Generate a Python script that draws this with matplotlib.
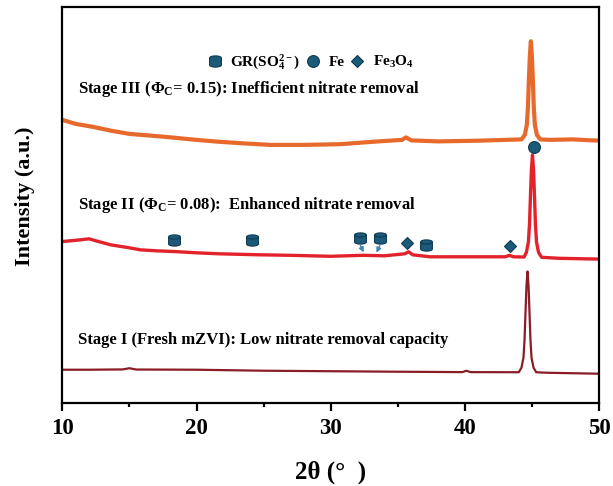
import numpy as np
import matplotlib
matplotlib.use("Agg")
import matplotlib.pyplot as plt
from matplotlib.path import Path
from matplotlib.lines import Line2D

plt.rcParams['font.family'] = ['Liberation Serif', 'DejaVu Serif']
plt.rcParams['font.weight'] = 'bold'
plt.rcParams['mathtext.fontset'] = 'custom'
plt.rcParams['mathtext.rm'] = 'Liberation Serif:bold'
plt.rcParams['mathtext.bf'] = 'Liberation Serif:bold'
plt.rcParams['mathtext.it'] = 'Liberation Serif:bold:italic'

# --- XRD traces (2theta in deg, intensity in a.u., offset stacked) ---
# Stage III (orange)
s3_2theta = [10, 11, 12.3, 13.7, 15, 17.7, 20, 21.6, 23.5, 25.5, 28, 30.7, 33, 35.3, 35.6, 36,
             38, 41, 44.2, 44.45, 44.6, 44.68, 44.75, 44.82, 44.9, 44.98, 45.05, 45.12, 45.2,
             45.35, 45.6, 46.3, 48, 50]
s3_int = [283, 279, 276, 272, 269, 266, 263, 261.2, 259.5, 258, 258, 258.7, 261, 263, 265.5, 262.5,
          261.5, 262.2, 263.5, 268, 278, 295, 322, 346, 361.7, 346, 322, 295, 278,
          268, 263.5, 263, 263.5, 262.2]

# Stage II (red)
s2_2theta = [10, 11, 12, 12.5, 13.6, 15, 15.8, 17, 18.3, 20, 21.7, 24.7, 27, 30, 32.4, 34, 35.5,
             35.8, 36.1, 37.4, 40, 43, 43.3, 43.6, 44.4, 44.57, 44.72, 44.8, 44.87, 44.94, 45.02,
             45.1, 45.17, 45.24, 45.32, 45.47, 45.7, 47, 50]
s2_int = [161.3, 162.5, 164, 162, 158, 155, 153, 152, 151.3, 150, 149, 148, 147.5, 146.5, 147.5, 147, 149,
          151, 148, 146, 146, 146, 147.5, 146, 145.8, 150.5, 161, 179, 207, 233, 248,
          233, 207, 179, 161, 150.5, 145.5, 144.5, 143.7]

# Stage I (dark red)
s1_2theta = [10, 12, 14.5, 15, 15.5, 20, 25, 30, 35, 39.8, 40.1, 40.4, 44.0, 44.2, 44.35, 44.43,
             44.5, 44.57, 44.65, 44.73, 44.8, 44.87, 44.95, 45.1, 45.3, 46, 50]
s1_int = [33, 33, 33.3, 34.5, 33.2, 33, 32, 31.5, 31, 30.6, 32, 30.6, 30.5, 35, 45, 63,
          90, 116, 131.3, 116, 90, 63, 45, 35, 30.5, 30, 29]

# phase markers on the Stage II pattern
gr_2theta = [18.3, 24.1, 32.2, 33.65, 37.1]
gr_height = [163, 163, 165.3, 165.3, 157.7]
mag_2theta = [35.7, 43.35]
mag_height = [159.7, 157]
fe_2theta = [45.15]
fe_height = [256.3]
arrow_peaks = [32.2, 33.65]

stage_labels = ["Stage III ($\\Phi_\\mathregular{C}$= 0.15): Inefficient nitrate removal",
                "Stage II ($\\Phi_\\mathregular{C}$= 0.08):  Enhanced nitrate removal",
                "Stage I (Fresh mZVI): Low nitrate removal capacity"]
stage_label_y = [313.5, 198, 63]

c_s3 = '#E8692C'
c_s2 = '#E2232B'
c_s1 = '#8A1D26'
c_mark = '#1C5A7A'
c_edge = '#0F3A50'


def cylinder_marker():
    # cylinder: outline plus the front rim of the top ellipse
    t1 = np.linspace(np.pi, 0, 20)
    t2 = np.linspace(0, -np.pi, 20)
    top = np.column_stack([np.cos(t1), 0.6 + 0.35 * np.sin(t1)])
    bot = np.column_stack([np.cos(t2), -0.6 + 0.35 * np.sin(t2)])
    verts = np.vstack([top, bot, top[:1]])
    codes = [Path.MOVETO] + [Path.LINETO] * (len(verts) - 2) + [Path.CLOSEPOLY]
    return Path(verts, codes)


def rim_marker():
    t = np.linspace(np.pi, 2 * np.pi, 20)
    rim = np.column_stack([np.cos(t), 0.6 + 0.35 * np.sin(t)])
    pad = np.array([[1, 0.95], [-1, -0.95]])
    verts = np.vstack([rim, pad])
    codes = [Path.MOVETO] + [Path.LINETO] * (len(rim) - 1) + [Path.MOVETO, Path.MOVETO]
    return Path(verts, codes)


cyl = cylinder_marker()
rim = rim_marker()

fig = plt.figure(figsize=(6.13, 4.86), dpi=100)
ax = fig.add_axes([0.1016, 0.1714, 0.8761, 0.8132])

ax.plot(s3_2theta, s3_int, color=c_s3, lw=3.0, solid_joinstyle='round')
ax.plot(s2_2theta, s2_int, color=c_s2, lw=2.4, solid_joinstyle='round')
ax.plot(s1_2theta, s1_int, color=c_s1, lw=1.6, solid_joinstyle='round')

ax.plot(gr_2theta, gr_height, ls='none', marker=cyl, ms=8.5, mfc=c_mark, mec=c_edge, mew=0.8)
ax.plot(gr_2theta, gr_height, ls='none', marker=rim, ms=8.5, mfc='none', mec=c_edge, mew=0.8)
ax.plot(mag_2theta, mag_height, ls='none', marker='D', ms=6.5, mfc=c_mark, mec=c_edge, mew=0.8)
ax.plot(fe_2theta, fe_height, ls='none', marker='o', ms=8.5, mfc=c_mark, mec=c_edge, mew=0.8)

for i, x0 in enumerate(arrow_peaks):
    k = gr_2theta.index(x0)
    dx = 0.25 if i == 0 else -0.25
    y_tip = np.interp(x0 + dx, s2_2theta, s2_int) + 3
    ax.annotate('', xy=(x0 + dx, y_tip), xytext=(x0, gr_height[k] - 8),
                arrowprops=dict(arrowstyle='-|>', color='#3A86B4', lw=1.0,
                                mutation_scale=7, shrinkA=0, shrinkB=0))

for lab, yy in zip(stage_labels, stage_label_y):
    ax.text(11.15, yy, lab, fontsize=12, fontweight='bold', va='center', ha='left')

handles = [Line2D([], [], ls='none', marker=cyl, ms=8.5, mfc=c_mark, mec=c_edge, mew=0.8),
           Line2D([], [], ls='none', marker='o', ms=8.5, mfc=c_mark, mec=c_edge, mew=0.8),
           Line2D([], [], ls='none', marker='D', ms=6.5, mfc=c_mark, mec=c_edge, mew=0.8)]
labels = ['GR(SO$_\\mathregular{4}^{\\mathregular{2-}}$)', 'Fe', 'Fe$_\\mathregular{3}$O$_\\mathregular{4}$']
ax.legend(handles, labels, ncol=3, frameon=False, loc='center', bbox_to_anchor=(0.462, 0.862),
          handlelength=1.0, handletextpad=0.5, columnspacing=0.35,
          prop={'weight': 'bold', 'size': 11})

ax.set_xlim(10, 50)
ax.set_ylim(0, 395.5)
ax.set_xticks([10, 20, 30, 40, 50])
ax.set_xticks([15, 25, 35, 45], minor=True)
ax.set_yticks([])
ax.tick_params(axis='x', which='major', direction='out', length=5.8, width=1.6,
               labelsize=16.5, pad=5)
ax.tick_params(axis='x', which='minor', direction='out', length=3.2, width=1.6)
for lab in ax.get_xticklabels():
    lab.set_fontweight('bold')
for sp in ax.spines.values():
    sp.set_linewidth(1.6)

ax.set_xlabel('2θ (°  )', fontsize=18, fontweight='bold')
ax.set_ylabel('Intensity (a.u.)', fontsize=16, fontweight='bold')
ax.xaxis.set_label_coords(0.5, -0.146)
ax.yaxis.set_label_coords(-0.051, 0.523)

fig.savefig('out.png', dpi=100)
